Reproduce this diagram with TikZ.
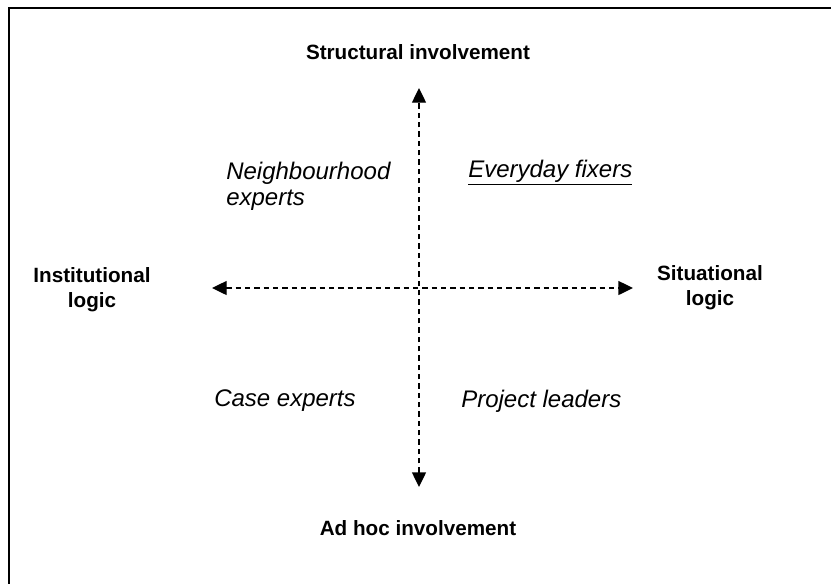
\documentclass[tikz,border=0pt]{standalone}
\usepackage{fontspec}
\setmainfont{Liberation Sans}
\usetikzlibrary{arrows.meta}

\begin{document}
\begin{tikzpicture}[x=0.75pt,y=-0.75pt,
  axislabel/.style={font=\fontsize{15.5}{18.5}\selectfont\bfseries,align=center,inner sep=0pt},
  role/.style={font=\fontsize{18}{19.5}\selectfont\itshape,align=left,inner sep=0pt,anchor=west},
  axis/.style={line width=1pt,dash pattern=on 4pt off 3pt,{Triangle[length=11pt,width=10.5pt]}-{Triangle[length=11pt,width=10.5pt]}}]
\useasboundingbox (0,0) rectangle (831,583);
% open frame
\draw[line width=1.6pt,line cap=rect] (9,583) -- (9,8) -- (831,8);
% axis ends
\coordinate (top) at (419,88);
\coordinate (bottom) at (419,487);
\coordinate (left) at (212,288);
\coordinate (right) at (633,288);
\draw[axis] (bottom) -- (top);
\draw[axis] (left) -- (right);
% axis labels
\node[axislabel] (structural) at (418,52) {Structural involvement};
\node[axislabel] (adhoc) at (418,528) {Ad hoc involvement};
\node[axislabel] (institutional) at (92,290) {Institutional\\logic};
\node[axislabel] (situational) at (710,288) {Situational\\logic};
% quadrants
\node[role] (neighbourhood) at (226,186) {Neighbourhood\\experts};
\node[role] (fixers) at (468,173) {\underline{Everyday fixers}};
\node[role] (case) at (214,401) {Case experts};
\node[role] (project) at (461,401) {Project leaders};
\end{tikzpicture}
\end{document}
